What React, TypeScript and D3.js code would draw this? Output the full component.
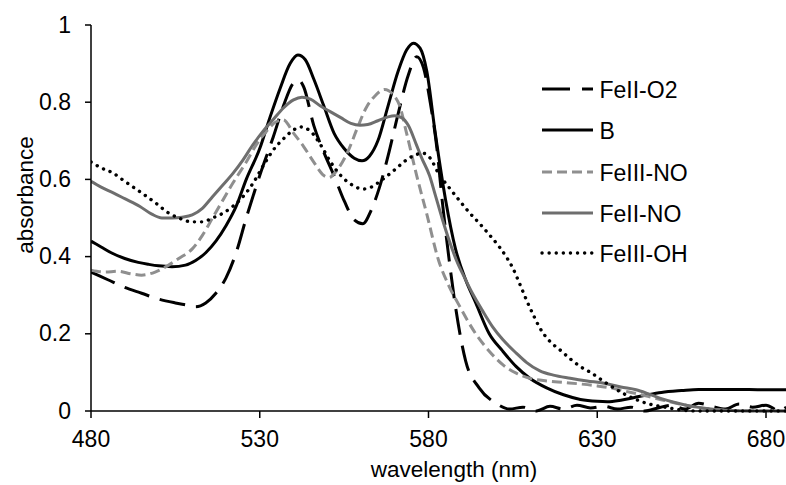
import React from "react";
import * as d3 from "d3";

type P = [number, number];

const xTicks = [480, 530, 580, 630, 680];
const yTicks = [0, 0.2, 0.4, 0.6, 0.8, 1];
const yTickLabels = ["0", "0.2", "0.4", "0.6", "0.8", "1"];

const seriesNames = ["FeII-O2", "B", "FeIII-NO", "FeII-NO", "FeIII-OH"];

const feIIO2: P[] = [
  [480, 0.36], [485, 0.34], [490, 0.32], [495, 0.305], [500, 0.29], [505, 0.28], [508, 0.275], [511, 0.27],
  [514, 0.28], [517, 0.305], [520, 0.345], [523, 0.41], [526, 0.5], [530, 0.61], [534, 0.71], [537, 0.79],
  [540, 0.85], [541.5, 0.857], [543, 0.84], [546, 0.74], [549, 0.67], [552, 0.61], [555, 0.545], [558, 0.495],
  [560.5, 0.485], [563, 0.52], [565.5, 0.58], [568, 0.66], [571, 0.77], [574, 0.87], [576.5, 0.918],
  [578.5, 0.89], [580.5, 0.8], [582.5, 0.68], [584, 0.55], [586, 0.4], [588, 0.27], [591, 0.13], [595, 0.06],
  [600, 0.02], [604, 0.005], [608, 0.01], [612, 0.0], [616, 0.012], [620, 0.005], [624, 0.015], [628, 0.008],
  [632, 0.012], [636, 0.005], [640, 0.01], [644, 0.0], [648, 0.008], [652, 0.015], [656, 0.005], [660, 0.02],
  [664, 0.012], [668, 0.005], [672, 0.018], [676, 0.01], [680, 0.015], [684, 0.0], [686, 0.01],
];

const bSeries: P[] = [
  [480, 0.44], [483, 0.425], [486, 0.41], [490, 0.395], [494, 0.385], [497, 0.38], [500, 0.376], [504, 0.374],
  [508, 0.378], [511, 0.39], [514, 0.41], [517, 0.44], [520, 0.48], [523, 0.53], [526, 0.6], [530, 0.68],
  [533, 0.76], [536, 0.835], [539, 0.9], [541.3, 0.922], [543.5, 0.91], [546, 0.86], [549, 0.79], [552, 0.72],
  [555, 0.68], [558, 0.655], [560.3, 0.648], [562.5, 0.66], [565, 0.7], [568, 0.79], [571, 0.88],
  [573.5, 0.935], [575.5, 0.953], [577.5, 0.94], [579.5, 0.88], [582, 0.72], [585, 0.55], [588, 0.42],
  [591, 0.34], [594, 0.28], [598, 0.2], [602, 0.155], [606, 0.115], [610, 0.085], [615, 0.06], [620, 0.042],
  [625, 0.03], [630, 0.025], [633, 0.024], [637, 0.028], [641, 0.035], [645, 0.042], [649, 0.048],
  [655, 0.053], [660, 0.056], [670, 0.056], [680, 0.055], [686, 0.055],
];

const feIIINO: P[] = [
  [480, 0.365], [484, 0.36], [488, 0.362], [492, 0.355], [495, 0.352], [499, 0.36], [503, 0.378], [506, 0.395],
  [510, 0.42], [513, 0.455], [516, 0.5], [519, 0.545], [522, 0.59], [526, 0.645], [529, 0.69], [532, 0.725],
  [535, 0.75], [537, 0.754], [540, 0.72], [543, 0.685], [546, 0.645], [549, 0.61], [550.5, 0.605], [553, 0.625],
  [556, 0.67], [559, 0.735], [561.5, 0.785], [564, 0.815], [567, 0.833], [569.5, 0.82], [571.5, 0.79],
  [573.5, 0.72], [576.5, 0.61], [579.5, 0.51], [583, 0.39], [586, 0.325], [589, 0.275], [594, 0.2],
  [598, 0.155], [602, 0.12], [606, 0.098], [610, 0.085], [615, 0.078], [620, 0.074], [625, 0.07], [630, 0.065],
  [635, 0.058], [640, 0.048], [645, 0.038], [650, 0.027], [655, 0.017], [660, 0.009], [665, 0.004],
  [670, 0.001], [686, 0],
];

const feIINO: P[] = [
  [480, 0.595], [483, 0.58], [486.6, 0.565], [490, 0.55], [494.5, 0.53], [498, 0.51], [501, 0.5], [504, 0.5],
  [507, 0.502], [510, 0.508], [513, 0.525], [516, 0.555], [519, 0.585], [522, 0.615], [525, 0.65], [528, 0.69],
  [531, 0.725], [534, 0.755], [537, 0.785], [540, 0.806], [542.5, 0.813], [545, 0.808], [548, 0.79],
  [551, 0.775], [554, 0.76], [557, 0.745], [559.7, 0.74], [562, 0.742], [565, 0.752], [568, 0.762],
  [570, 0.765], [572, 0.76], [574, 0.74], [576.4, 0.69], [578, 0.655], [580.3, 0.61], [582, 0.56], [584, 0.5],
  [586, 0.445], [588.3, 0.39], [591, 0.34], [593, 0.305], [596, 0.26], [599, 0.218], [602, 0.185], [606, 0.15],
  [609, 0.126], [613, 0.104], [617, 0.093], [622, 0.085], [627, 0.078], [632, 0.072], [637, 0.062],
  [641.5, 0.055], [645, 0.045], [649, 0.032], [653, 0.022], [658, 0.012], [663, 0.006], [668, 0.002],
  [675, 0], [686, 0],
];

const feIIIOH: P[] = [
  [480, 0.645], [483, 0.63], [486.6, 0.616], [490, 0.595], [495, 0.565], [499, 0.54], [503, 0.513], [506, 0.5],
  [510, 0.49], [513, 0.49], [516, 0.5], [519, 0.512], [522, 0.53], [525, 0.555], [528, 0.59], [531, 0.635],
  [534, 0.676], [537, 0.705], [540, 0.728], [542, 0.736], [545, 0.725], [548, 0.69], [551, 0.645], [554, 0.61],
  [557.5, 0.585], [560.5, 0.575], [563, 0.58], [566.4, 0.6], [570, 0.625], [573.4, 0.65], [576, 0.663],
  [578.3, 0.668], [580.5, 0.655], [583, 0.615], [586, 0.58], [589, 0.547], [592, 0.515], [595, 0.487],
  [598, 0.457], [601, 0.425], [603, 0.4], [605, 0.37], [607, 0.33], [609, 0.288], [611, 0.25], [613, 0.215],
  [616, 0.18], [619, 0.158], [622, 0.135], [625, 0.115], [628, 0.1], [632.7, 0.072], [637.6, 0.046],
  [644.6, 0.02], [650, 0.01], [654.5, 0.003], [660, 0], [686, 0],
];

const seriesData = [feIIO2, bSeries, feIIINO, feIINO, feIIIOH];

const styles = [
  { color: "#000000", dash: "26,11", width: 3, cap: "butt" },
  { color: "#000000", dash: "", width: 3, cap: "butt" },
  { color: "#8f8f8f", dash: "10,5", width: 3, cap: "butt" },
  { color: "#6e6e6e", dash: "", width: 3, cap: "butt" },
  { color: "#000000", dash: "0.1,7", width: 3.4, cap: "round" },
];

const W = 786;
const H = 485;
const x0 = 91;
const y0 = 411;
const font = "'Liberation Sans', Arial, sans-serif";

export default function App() {
  const x = d3.scaleLinear().domain([480, 680]).range([x0, 766]);
  const y = d3.scaleLinear().domain([0, 1]).range([y0, 25]);
  const line = d3
    .line<P>()
    .x((d) => x(d[0]))
    .y((d) => y(d[1]))
    .curve(d3.curveMonotoneX);

  const legendX1 = 542;
  const legendX2 = 593;
  const legendY = [89, 130, 172, 213, 253];

  return (
    <svg
      width={W}
      height={H}
      style={{ position: "absolute", left: 0, top: 0, background: "#fff" }}
      fontFamily={font}
    >
      <rect x={0} y={0} width={W} height={H} fill="#fff" />
      <defs>
        <clipPath id="plot">
          <rect x={x0} y={0} width={W - x0} height={y0 + 2} />
        </clipPath>
      </defs>
      <g clipPath="url(#plot)">
        {seriesData.map((d, i) => (
          <path
            key={seriesNames[i]}
            d={line(d) || ""}
            fill="none"
            stroke={styles[i].color}
            strokeWidth={styles[i].width}
            strokeDasharray={styles[i].dash || undefined}
            strokeLinecap={styles[i].cap as any}
            strokeLinejoin="round"
          />
        ))}
      </g>
      {/* axes */}
      <line x1={x0} x2={x0} y1={y(1)} y2={y0} stroke="#000" strokeWidth={1.5} />
      <line x1={x0} x2={W} y1={y0} y2={y0} stroke="#000" strokeWidth={1.5} />
      {yTicks.map((t, i) => (
        <g key={"y" + t}>
          <line x1={x0 - 6} x2={x0} y1={y(t)} y2={y(t)} stroke="#000" strokeWidth={1.5} />
          <text x={71} y={y(t) + 7.5} textAnchor="end" fontSize={23} fill="#000">
            {yTickLabels[i]}
          </text>
        </g>
      ))}
      {xTicks.map((t) => (
        <g key={"x" + t}>
          <line x1={x(t)} x2={x(t)} y1={y0} y2={y0 + 7} stroke="#000" strokeWidth={1.5} />
          <text x={x(t)} y={447} textAnchor="middle" fontSize={23} fill="#000">
            {t}
          </text>
        </g>
      ))}
      <text x={454} y={477} textAnchor="middle" fontSize={22.5} fill="#000">
        wavelength (nm)
      </text>
      <text
        transform={`translate(33, 195) rotate(-90)`}
        textAnchor="middle"
        fontSize={22.5}
        fill="#000"
      >
        absorbance
      </text>
      {/* legend */}
      {seriesNames.map((n, i) => (
        <g key={"lg" + n}>
          <line
            x1={legendX1}
            x2={legendX2}
            y1={legendY[i]}
            y2={legendY[i]}
            stroke={styles[i].color}
            strokeWidth={styles[i].width}
            strokeDasharray={i === 0 ? "28,12" : styles[i].dash || undefined}
            strokeLinecap={styles[i].cap as any}
          />
          <text x={599.5} y={legendY[i] + 8.5} fontSize={23} fill="#000">
            {n}
          </text>
        </g>
      ))}
    </svg>
  );
}
